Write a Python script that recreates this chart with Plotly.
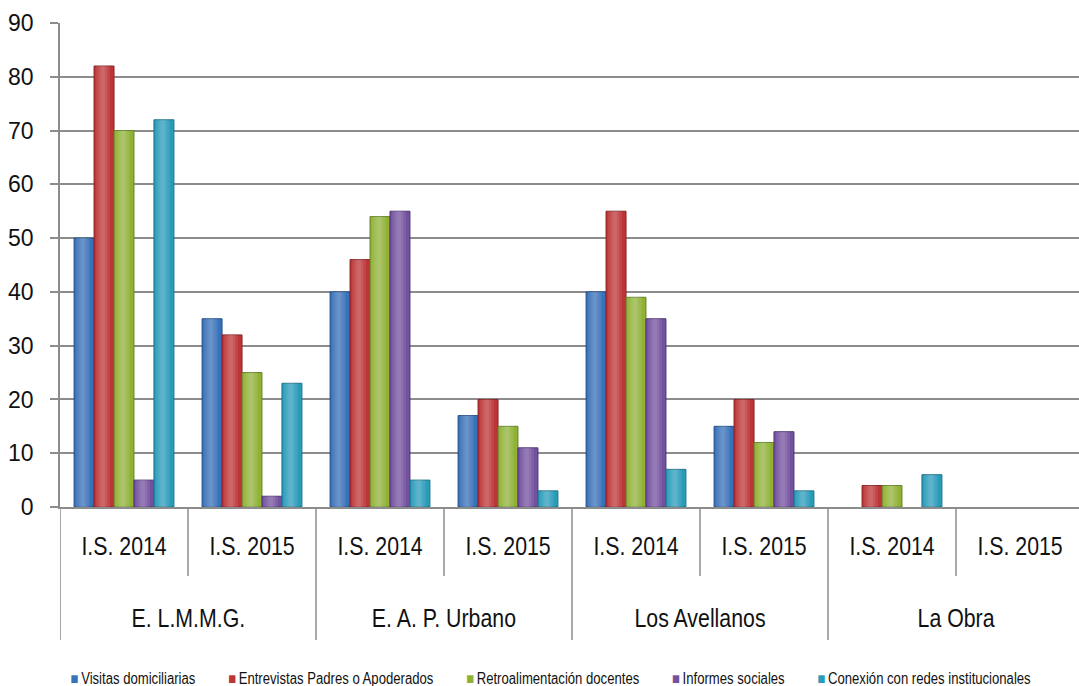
import plotly.graph_objects as go

# Schools (top-level categories) and periods (second level)
groups = ["E. L.M.M.G.", "E. A. P. Urbano", "Los Avellanos", "La Obra"]
periods = ["I.S. 2014", "I.S. 2015"]

# Activity series, one value per school/period, in the order
# E.L.M.M.G. 2014, 2015, Urbano 2014, 2015, Avellanos 2014, 2015, La Obra 2014, 2015
visitas = [50, 35, 40, 17, 40, 15, None, None]
entrevistas = [82, 32, 46, 20, 55, 20, 4, None]
retroalimentacion = [70, 25, 54, 15, 39, 12, 4, None]
informes = [5, 2, 55, 11, 35, 14, None, None]
conexion = [72, 23, 5, 3, 7, 3, 6, None]

series_names = [
    "Visitas domiciliarias",
    "Entrevistas Padres o Apoderados",
    "Retroalimentación docentes",
    "Informes sociales",
    "Conexión con redes institucionales",
]
series_values = [visitas, entrevistas, retroalimentacion, informes, conexion]
series_colors = ["#3872BA", "#BE3537", "#8FB236", "#74519F", "#2A9CBB"]
series_edges = ["#245089", "#872426", "#66822A", "#4F3674", "#1B7189"]

y_ticks = [0, 10, 20, 30, 40, 50, 60, 70, 80, 90]

FONT = "Liberation Sans, Arial, sans-serif"
GRID = "#8C8C8C"

n_sub = len(groups) * len(periods)
xpos = list(range(n_sub))

# Grouped bar geometry in category units
GROUP_W = 0.78
n_series = len(series_names)
BAR_W = GROUP_W / n_series

fig = go.Figure()
for k, (name, vals, col, edge) in enumerate(zip(series_names, series_values, series_colors, series_edges)):
    off = -GROUP_W / 2 + k * BAR_W
    fig.add_trace(go.Bar(
        x=xpos, y=vals, name=name, width=BAR_W, offset=off,
        marker=dict(color=col, line=dict(color=edge, width=1)),
        showlegend=False,
    ))
    # soft vertical sheen on each bar (layered translucent strips)
    for frac in (0.7, 0.45, 0.22):
        w = BAR_W * frac
        fig.add_trace(go.Bar(
            x=xpos, y=vals, width=w, offset=off + (BAR_W - w) / 2 - BAR_W * 0.06,
            marker=dict(color="rgba(255,255,255,0.09)", line=dict(width=0)),
            showlegend=False, hoverinfo="skip",
        ))

# Plot area geometry (pixels) used to map the two-level category labels
W, H = 1079, 686
L, T, B = 60, 23, 179
plot_h = H - T - B


def py(px_below_axis):
    """Paper y for a point a given number of pixels below the x axis."""
    return -px_below_axis / plot_h


shapes = []
annotations = []

# Period labels and short dividers between periods
for i in range(n_sub):
    annotations.append(dict(
        x=i, y=py(39), xref="x", yref="paper", text=periods[i % len(periods)],
        showarrow=False, xanchor="center", yanchor="middle",
        font=dict(family=FONT, size=26, color="#111111"),
    ))
    if i % len(periods) == 1:
        shapes.append(dict(type="line", xref="x", yref="paper",
                           x0=i - 0.5, x1=i - 0.5, y0=0, y1=py(69),
                           line=dict(color=GRID, width=1.5)))

# School labels and long dividers between schools
for g, gname in enumerate(groups):
    center = g * len(periods) + (len(periods) - 1) / 2
    annotations.append(dict(
        x=center, y=py(111), xref="x", yref="paper", text=gname,
        showarrow=False, xanchor="center", yanchor="middle",
        font=dict(family=FONT, size=26, color="#111111"),
    ))
    xb = g * len(periods) - 0.5
    shapes.append(dict(type="line", xref="x", yref="paper",
                       x0=xb, x1=xb, y0=0, y1=py(133),
                       line=dict(color=GRID, width=1.5)))

# Legend row built as one line of coloured squares and names
gap = "\u00a0" * 9
legend_parts = [
    f"<span style='color:{c}'>\u25A0</span>\u2009{n}" for n, c in zip(series_names, series_colors)
]
annotations.append(dict(
    x=0.481, y=py(171), xref="paper", yref="paper", text=gap.join(legend_parts),
    showarrow=False, xanchor="center", yanchor="middle",
    font=dict(family=FONT, size=16, color="#111111"),
))

fig.update_layout(
    width=W, height=H,
    margin=dict(l=L, r=0, t=T, b=B, pad=0),
    paper_bgcolor="white", plot_bgcolor="white",
    barmode="overlay",
    shapes=shapes, annotations=annotations,
    font=dict(family=FONT, color="#111111"),
)
fig.update_xaxes(
    range=[-0.5, n_sub - 0.5 - 5 / 128],
    showticklabels=False, ticks="", showgrid=False, zeroline=False,
    showline=True, linecolor=GRID, linewidth=1.5,
)
fig.update_yaxes(
    range=[0, 90], tickvals=y_ticks, ticktext=[str(v) for v in y_ticks],
    ticks="outside", ticklen=8, tickcolor=GRID, tickwidth=1.5,
    ticklabelstandoff=12,
    tickfont=dict(family=FONT, size=23, color="#111111"),
    showgrid=True, gridcolor=GRID, gridwidth=1.5,
    zeroline=False, showline=True, linecolor=GRID, linewidth=1.5,
)

# Narrow the category and legend lettering (condensed face look)
condense_css = """
var st = document.createElement('style');
st.textContent = '.annotation-text{transform-box:fill-box;transform-origin:center;transform:scaleX(0.82);}';
document.head.appendChild(st);
"""

fig.write_html("out.html", post_script=condense_css)
